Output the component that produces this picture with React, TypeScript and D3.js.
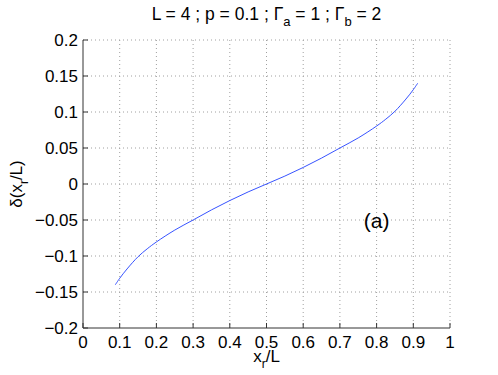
import React from "react";
import * as d3 from "d3";

const xValues = [0.088, 0.1, 0.12, 0.15, 0.175, 0.2, 0.25, 0.3, 0.35, 0.4, 0.45, 0.5, 0.55, 0.6, 0.65, 0.7, 0.75, 0.8, 0.825, 0.85, 0.88, 0.9, 0.912];
const deltaValues = [-0.14, -0.131, -0.118, -0.101, -0.09, -0.0805, -0.064, -0.05, -0.036, -0.023, -0.011, 0, 0.011, 0.023, 0.036, 0.05, 0.064, 0.0805, 0.09, 0.101, 0.118, 0.131, 0.14];
const xTicks = [0, 0.1, 0.2, 0.3, 0.4, 0.5, 0.6, 0.7, 0.8, 0.9, 1];
const yTicks = [-0.2, -0.15, -0.1, -0.05, 0, 0.05, 0.1, 0.15, 0.2];

const width = 498;
const height = 375;
const margin = { top: 40, right: 48, bottom: 47, left: 83 };
const font = "'Liberation Sans', Arial, Helvetica, sans-serif";

export default function App() {
  const innerWidth = width - margin.left - margin.right;
  const innerHeight = height - margin.top - margin.bottom;

  const xScale = d3.scaleLinear().domain([0, 1]).range([0, innerWidth]);
  const yScale = d3.scaleLinear().domain([-0.2, 0.2]).range([innerHeight, 0]);

  const points: [number, number][] = xValues.map((x, i) => [x, deltaValues[i]]);
  const line = d3
    .line<[number, number]>()
    .x((d) => xScale(d[0]))
    .y((d) => yScale(d[1]))
    .curve(d3.curveCatmullRom.alpha(0.5));

  const fmt = (v: number) => (v < 0 ? "\u2212" + String(-v) : String(v));

  return (
    <svg
      width={width}
      height={height}
      style={{ position: "absolute", left: 0, top: 0, background: "white" }}
      fontFamily={font}
    >
      <g transform={`translate(${margin.left},${margin.top})`}>
        {/* grid */}
        {xTicks.slice(1).map((t) => (
          <line
            key={"gx" + t}
            x1={xScale(t)}
            x2={xScale(t)}
            y1={0}
            y2={innerHeight}
            stroke="#a0a0a0"
            strokeWidth={1}
            strokeDasharray="1,3"
          />
        ))}
        {yTicks.slice(1).map((t) => (
          <line
            key={"gy" + t}
            x1={0}
            x2={innerWidth}
            y1={yScale(t)}
            y2={yScale(t)}
            stroke="#a0a0a0"
            strokeWidth={1}
            strokeDasharray="1,3"
          />
        ))}

        {/* axes */}
        <line x1={0} x2={innerWidth} y1={innerHeight} y2={innerHeight} stroke="#333" />
        <line x1={0} x2={0} y1={0} y2={innerHeight} stroke="#333" />
        {xTicks.map((t) => (
          <g key={"tx" + t} transform={`translate(${xScale(t)},${innerHeight})`}>
            <line y2={-5} stroke="#333" />
            <text y={20} textAnchor="middle" fontSize={17} fill="black">
              {fmt(t)}
            </text>
          </g>
        ))}
        {yTicks.map((t) => (
          <g key={"ty" + t} transform={`translate(0,${yScale(t)})`}>
            <line x2={5} stroke="#333" />
            <text x={-5} dy="0.36em" textAnchor="end" fontSize={17} fill="black">
              {fmt(t)}
            </text>
          </g>
        ))}

        {/* curve */}
        <path d={line(points) ?? ""} fill="none" stroke="#2040ff" strokeWidth={0.9} />

        <text x={xScale(0.8)} y={yScale(-0.061)} textAnchor="middle" fontSize={21} fill="black">
          (a)
        </text>

        {/* title */}
        <text x={innerWidth / 2} y={-20} textAnchor="middle" fontSize={17.5} fill="black">
          L = 4 ; p = 0.1 ;
          <tspan> {"\u0393"}</tspan>
          <tspan fontSize={13} dy={6}>a</tspan>
          <tspan dy={-6}> = 1 ; {"\u0393"}</tspan>
          <tspan fontSize={13} dy={6}>b</tspan>
          <tspan dy={-6}> = 2</tspan>
        </text>

        {/* x label */}
        <text x={innerWidth / 2} y={innerHeight + 34} textAnchor="middle" fontSize={17} fill="black">
          x<tspan fontSize={12} dy={6}>r</tspan>
          <tspan dy={-6}>/L</tspan>
        </text>
      </g>

      {/* y label */}
      <text
        transform={`translate(22,${margin.top + innerHeight / 2}) rotate(-90)`}
        textAnchor="middle"
        fontSize={17}
        fill="black"
      >
        {"\u03B4"}(x<tspan fontSize={12} dy={6}>r</tspan>
        <tspan dy={-6}>/L)</tspan>
      </text>
    </svg>
  );
}
